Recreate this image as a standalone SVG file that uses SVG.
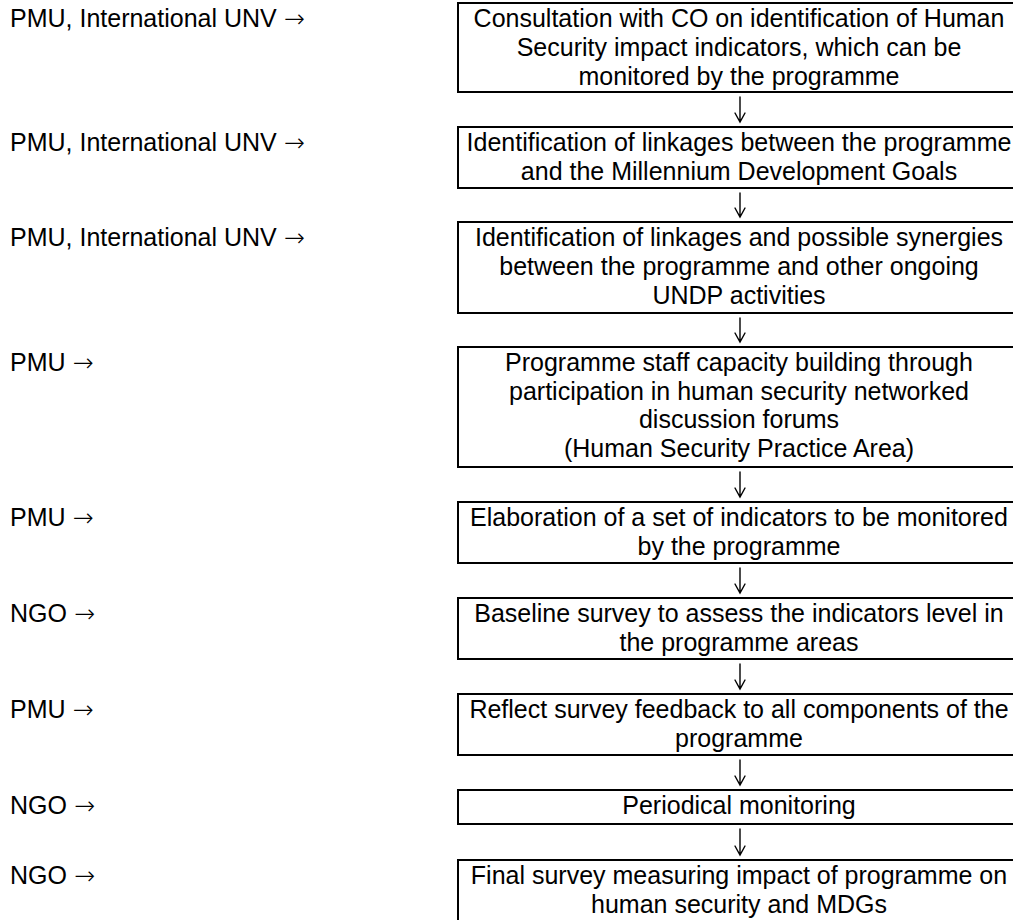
<svg xmlns="http://www.w3.org/2000/svg" width="1013" height="920" viewBox="0 0 1013 920">
  <style>
    text { font-family: "Liberation Sans", Arial, sans-serif; font-size: 25px; fill: #000; }
    .arr { font-family: "DejaVu Sans", sans-serif; font-weight: 200; font-size: 25px; }
    .step rect { fill: #fff; stroke: #000; stroke-width: 2; }
    .step text { text-anchor: middle; }
    #connectors path { fill: none; stroke: #000; stroke-width: 1.4; stroke-linecap: round; stroke-linejoin: miter; }
  </style>
  <rect width="1013" height="920" fill="#fff"/>

  <!-- who is responsible for each step -->
  <g id="actors">
    <text x="10" y="27">PMU, International UNV <tspan class="arr">→</tspan></text>
    <text x="10" y="151">PMU, International UNV <tspan class="arr">→</tspan></text>
    <text x="10" y="246">PMU, International UNV <tspan class="arr">→</tspan></text>
    <text x="10" y="371">PMU <tspan class="arr">→</tspan></text>
    <text x="10" y="526">PMU <tspan class="arr">→</tspan></text>
    <text x="10" y="622">NGO <tspan class="arr">→</tspan></text>
    <text x="10" y="718">PMU <tspan class="arr">→</tspan></text>
    <text x="10" y="814">NGO <tspan class="arr">→</tspan></text>
    <text x="10" y="884">NGO <tspan class="arr">→</tspan></text>
  </g>

  <!-- downward arrows between consecutive steps -->
  <g id="connectors">
    <path d="M740 97 V122 M735 113 L740 122 L745 113"/>
    <path d="M740 193 V217 M735 208 L740 217 L745 208"/>
    <path d="M740 318 V342 M735 333 L740 342 L745 333"/>
    <path d="M740 472 V497 M735 488 L740 497 L745 488"/>
    <path d="M740 568 V593 M735 584 L740 593 L745 584"/>
    <path d="M740 664 V689 M735 680 L740 689 L745 680"/>
    <path d="M740 760 V785 M735 776 L740 785 L745 776"/>
    <path d="M740 829 V855 M735 846 L740 855 L745 846"/>
  </g>

  <g id="step1" class="step">
    <rect x="458" y="3" width="570" height="89"/>
    <text x="739" y="27">Consultation with CO on identification of Human</text>
    <text x="739" y="56">Security impact indicators, which can be</text>
    <text x="739" y="85">monitored by the programme</text>
  </g>
  <g id="step2" class="step">
    <rect x="458" y="127" width="570" height="61"/>
    <text x="739" y="151">Identification of linkages between the programme</text>
    <text x="739" y="180">and the Millennium Development Goals</text>
  </g>
  <g id="step3" class="step">
    <rect x="458" y="222" width="570" height="91"/>
    <text x="739" y="246">Identification of linkages and possible synergies</text>
    <text x="739" y="275">between the programme and other ongoing</text>
    <text x="739" y="304">UNDP activities</text>
  </g>
  <g id="step4" class="step">
    <rect x="458" y="347" width="570" height="120"/>
    <text x="739" y="371">Programme staff capacity building through</text>
    <text x="739" y="400">participation in human security networked</text>
    <text x="739" y="428">discussion forums</text>
    <text x="739" y="457">(Human Security Practice Area)</text>
  </g>
  <g id="step5" class="step">
    <rect x="458" y="502" width="570" height="61"/>
    <text x="739" y="526">Elaboration of a set of indicators to be monitored</text>
    <text x="739" y="555">by the programme</text>
  </g>
  <g id="step6" class="step">
    <rect x="458" y="598" width="570" height="61"/>
    <text x="739" y="622">Baseline survey to assess the indicators level in</text>
    <text x="739" y="651">the programme areas</text>
  </g>
  <g id="step7" class="step">
    <rect x="458" y="694" width="570" height="61"/>
    <text x="739" y="718">Reflect survey feedback to all components of the</text>
    <text x="739" y="747">programme</text>
  </g>
  <g id="step8" class="step">
    <rect x="458" y="790" width="570" height="34"/>
    <text x="739" y="814">Periodical monitoring</text>
  </g>
  <g id="step9" class="step">
    <rect x="458" y="860" width="570" height="70"/>
    <text x="739" y="884">Final survey measuring impact of programme on</text>
    <text x="739" y="913">human security and MDGs</text>
  </g>
</svg>
